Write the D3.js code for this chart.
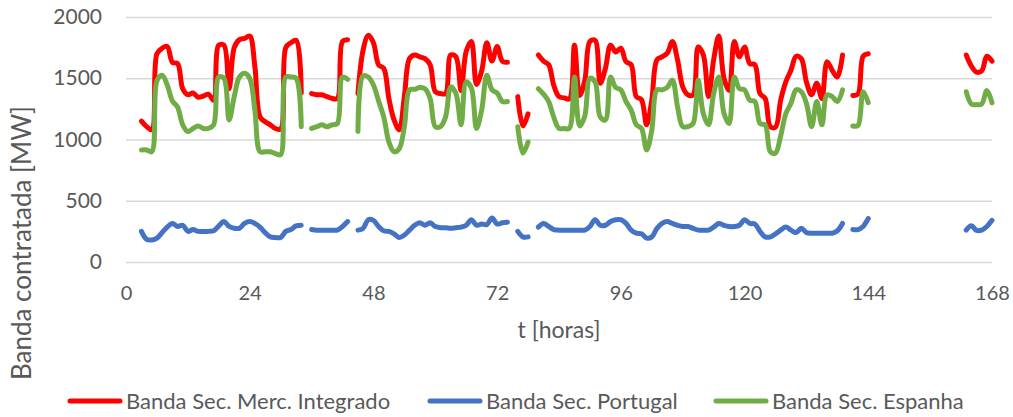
<!DOCTYPE html>
<html>
<head>
<meta charset="utf-8">
<script src="https://cdn.jsdelivr.net/npm/d3@7"></script>
<style>
  body { margin: 0; background: #fff; }
  text { font-family: Lato, "Open Sans", sans-serif; fill: #595959; }
</style>
</head>
<body>
<div id="chart"></div>
<script>
// hourly values, hour 1..168 (null = no data)
var mercIntegrado = [
  null, null, 1150, 1105, 1080, 1700, 1745, 1760, 1630, 1620, 1415, 1365, 1380, 1345, 1355, 1370, 1320, 1770, 1770, 1415, 1750, 1815, 1825, 1845,
  1595, 1185, 1145, 1120, 1090, 1085, 1750, 1790, 1810, 1380, null, 1375, 1365, 1365, 1350, 1335, 1335, 1800, 1815, null, 1375, 1730, 1850, 1790,
  1610, 1580, 1335, 1160, 1080, 1350, 1660, 1690, 1675, 1660, 1610, 1390, 1375, 1375, 1690, 1675, 1400, 1720, 1800, 1450, 1560, 1790, 1640, 1760,
  1640, 1630, null, 1350, 1110, 1210, null, 1690, 1640, 1610, 1440, 1350, 1340, 1330, 1770, 1360, 1480, 1800, 1810, 1460, 1580, 1770, 1715, 1745,
  1635, 1610, 1350, 1325, 1120, 1320, 1650, 1675, 1705, 1800, 1650, 1430, 1365, 1365, 1755, 1690, 1350, 1650, 1845, 1500, 1400, 1800, 1675, 1755,
  1620, 1610, 1375, 1335, 1105, 1100, 1320, 1470, 1565, 1680, 1660, 1470, 1365, 1460, 1335, 1635, 1565, 1510, 1690, null, 1360, 1370, 1680, 1700,
  null, null, null, null, null, null, null, null, null, null, null, null, null, null, null, null, null, null, 1690, 1600, 1550, 1560, 1680, 1640
];
var portugal = [
  null, null, 250, 185, 180, 195, 240, 285, 315, 290, 300, 250, 265, 250, 250, 250, 255, 295, 330, 290, 275, 275, 315, 330,
  315, 285, 240, 205, 200, 200, 250, 265, 295, 300, null, 265, 260, 260, 260, 260, 260, 290, 330, null, 260, 275, 345, 340,
  290, 255, 250, 230, 200, 220, 260, 300, 320, 300, 320, 290, 280, 280, 275, 280, 285, 300, 345, 300, 310, 305, 360, 310,
  320, 325, null, 250, 205, 205, null, 285, 315, 290, 265, 260, 260, 260, 260, 260, 260, 290, 345, 300, 300, 330, 345, 345,
  315, 260, 235, 230, 195, 205, 275, 315, 330, 315, 300, 290, 290, 275, 260, 260, 260, 285, 315, 300, 290, 290, 300, 345,
  315, 310, 250, 205, 205, 230, 260, 285, 260, 240, 275, 240, 235, 235, 235, 235, 235, 255, 315, null, 265, 265, 290, 355,
  null, null, null, null, null, null, null, null, null, null, null, null, null, null, null, null, null, null, 260, 295, 258, 260, 290, 340
];
var espanha = [
  null, null, 915, 915, 900, 1480, 1525, 1445, 1315, 1265, 1120, 1065, 1090, 1110, 1090, 1090, 1120, 1510, 1500, 1160, 1350, 1510, 1540, 1500,
  1240, 900, 900, 900, 885, 875, 1510, 1510, 1500, 1105, null, 1090, 1105, 1120, 1105, 1120, 1130, 1510, 1490, null, 1065, 1520, 1510, 1445,
  1315, 1185, 980, 900, 925, 1105, 1405, 1410, 1425, 1415, 1335, 1105, 1105, 1185, 1430, 1375, 1120, 1470, 1420, 1090, 1240, 1525, 1405, 1380,
  1310, 1310, null, 1105, 890, 980, null, 1415, 1370, 1310, 1180, 1090, 1090, 1090, 1510, 1110, 1190, 1500, 1470, 1185, 1160, 1510, 1425, 1405,
  1310, 1240, 1120, 1090, 915, 1075, 1405, 1405, 1425, 1485, 1265, 1105, 1105, 1130, 1485, 1210, 1120, 1375, 1510, 1215, 1130, 1510, 1415, 1405,
  1320, 1310, 1130, 1120, 900, 890, 1030, 1210, 1295, 1405, 1390, 1295, 1105, 1310, 1120, 1365, 1350, 1310, 1405, null, 1110, 1115, 1390, 1300,
  null, null, null, null, null, null, null, null, null, null, null, null, null, null, null, null, null, null, 1390, 1290, 1285, 1290, 1400, 1300
];
var xTicks = [0, 24, 48, 72, 96, 120, 144, 168];
var yTicks = [0, 500, 1000, 1500, 2000];
var seriesNames = ["Banda Sec. Merc. Integrado", "Banda Sec. Portugal", "Banda Sec. Espanha"];
var seriesColors = ["#ff0000", "#4472c4", "#70ad47"];

var width = 1013, height = 417;
var margin = {top: 17, right: 21, bottom: 155, left: 126};

var svg = d3.select("#chart")
	.append("svg")
	.attr("width", width)
	.attr("height", height);

var x = d3.scaleLinear().domain([0, 168]).range([margin.left, width - margin.right]),
    y = d3.scaleLinear().domain([0, 2000]).range([height - margin.bottom, margin.top]);

// gridlines + y labels
var yAxis = svg.append("g")
	.attr("transform", "translate(" + margin.left + ",0)")
	.call(d3.axisLeft(y).tickValues(yTicks).tickFormat(d3.format("d"))
		.tickSize(-(width - margin.left - margin.right)).tickPadding(24));
yAxis.select(".domain").remove();
yAxis.selectAll(".tick line").attr("stroke", "#d9d9d9").attr("stroke-width", 1.3);
yAxis.selectAll(".tick text").style("font-size", "21px").attr("fill", "#595959");

var xAxis = svg.append("g")
	.attr("transform", "translate(0," + y(0) + ")")
	.call(d3.axisBottom(x).tickValues(xTicks).tickSize(0).tickPadding(24));
xAxis.select(".domain").remove();
xAxis.selectAll(".tick text").style("font-size", "20px").attr("fill", "#595959");

var line = d3.line()
	.defined(function(d) { return d != null; })
	.curve(d3.curveCatmullRom.alpha(0.5))
	.x(function(d, i) { return x(i + 1); })
	.y(function(d) { return y(d); });

[mercIntegrado, portugal, espanha].forEach(function(s, k) {
	svg.append("path")
		.datum(s)
		.attr("d", line)
		.attr("fill", "none")
		.attr("stroke", seriesColors[k])
		.attr("stroke-width", 5)
		.attr("stroke-linecap", "round")
		.attr("stroke-linejoin", "round");
});

// axis titles
svg.append("text")
	.attr("x", (x(0) + x(168)) / 2)
	.attr("y", 338)
	.attr("text-anchor", "middle")
	.style("font-size", "23px")
	.text("t [horas]");

svg.append("text")
	.attr("transform", "translate(31,243) rotate(-90)")
	.attr("text-anchor", "middle")
	.style("font-size", "26px")
	.text("Banda contratada [MW]");

// legend
var legendX = [68, 428, 714];
var legend = svg.selectAll(".legend")
	.data(seriesNames)
	.enter().append("g")
	.attr("class", "legend")
	.attr("transform", function(d, i) { return "translate(" + legendX[i] + ",401)"; });
legend.append("line")
	.attr("x1", 2).attr("x2", 52)
	.attr("stroke", function(d, i) { return seriesColors[i]; })
	.attr("stroke-width", 5)
	.attr("stroke-linecap", "round");
legend.append("text")
	.attr("x", 58)
	.attr("y", 8)
	.style("font-size", "22px")
	.text(function(d) { return d; });
</script>
</body>
</html>
